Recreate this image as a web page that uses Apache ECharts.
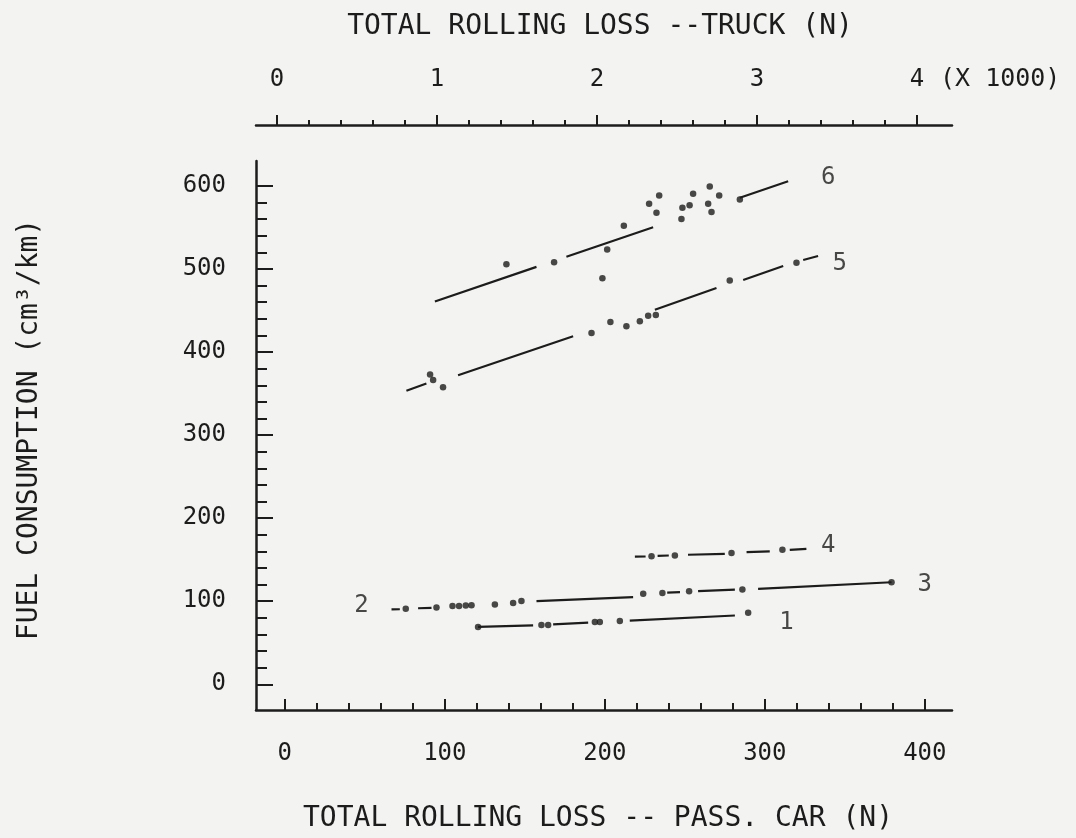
<!DOCTYPE html>
<html>
<head>
<meta charset="utf-8">
<title>Fuel consumption vs rolling loss</title>
<script src="https://cdn.jsdelivr.net/npm/echarts@6/dist/echarts.min.js"></script>
<style>
  html, body { margin: 0; padding: 0; background: #f3f3f1; }
  #chart { width: 1076px; height: 838px; }
</style>
</head>
<body>
<div id="chart"></div>
<script>
// tick labels
var carTicks = [0, 100, 200, 300, 400];
var truckTicks = [0, 1000, 2000, 3000, 4000];
var fuelTicks = [0, 100, 200, 300, 400, 500, 600];

// measured points, [pass. car rolling loss N, fuel cm3/km]
var pts1 = [[120.8, 69], [160.4, 71.4], [164.6, 71.4], [193.8, 75], [196.9, 75], [209.4, 76.2], [289.6, 86.1]];
var pts2 = [[75.6, 90.9], [94.8, 92.3], [104.8, 94.1], [108.9, 94.1], [113.1, 94.9], [116.7, 95.2], [131.3, 96], [142.7, 97.7], [147.9, 100.1]];
var pts3 = [[224, 108.9], [236, 110], [252.7, 112], [286, 114], [379.2, 122.8]];
var pts4 = [[229.2, 154], [243.8, 155.1], [279.2, 157.9], [311, 161.8]];
var pts5 = [[90.8, 373], [92.7, 366.4], [98.9, 357.6], [191.7, 423], [203.5, 436.2], [213.5, 431], [221.9, 437], [227.1, 443.8], [231.9, 444.6], [278.1, 486], [319.8, 507.5]];
var pts6 = [[138.5, 505.6], [168.3, 508], [201.5, 523.5], [198.5, 488.9], [211.9, 552], [227.7, 578.6], [234, 588.5], [232.3, 567.8], [247.9, 560.2], [248.5, 573.8], [253, 576.6], [255.2, 590.6], [265.6, 599.3], [271.5, 588.5], [264.6, 578.6], [266.7, 568.6], [284.4, 583.7]];

// fitted lines as drawn (broken around the points)
var fit1 = [[[120.8, 69], [155.2, 71]], [[167.7, 72.1], [189.6, 74.2]], [[215.6, 76.6], [281.3, 82.8]]];
var fit2 = [[[66.7, 90.1], [71.9, 90.3]], [[83.3, 91.5], [91.7, 92]], [[157.3, 100.1], [217.7, 104.9]]];
var fit3 = [[[239, 110.3], [247, 111]], [[258.3, 112.1], [281.3, 113.9]], [[295.8, 114.8], [379.2, 122.8]]];
var fit4 = [[[218.8, 153.6], [225.5, 153.8]], [[233, 154.5], [240, 155]], [[252, 155.9], [275, 157]], [[288.6, 159.1], [303.1, 159.9]], [[315.6, 161.8], [326, 163]]];
var fit5 = [[[76, 353.3], [88.5, 362]], [[108.3, 372], [180.2, 419]], [[231.3, 451], [269.8, 477]], [[286.5, 486.8], [311.5, 503.6]], [[324, 510.8], [333.3, 515.6]]];
var fit6 = [[[93.8, 460.9], [157.3, 502.5]], [[176, 514.8], [230.2, 550.3]], [[284.4, 585.8], [314.6, 605.6]]];

// curve numbers and where they sit
var curveNames = ['1', '2', '3', '4', '5', '6'];
var labelX = [313.5, 47.9, 400, 339.6, 346.9, 339.6];
var labelY = [74.2, 94.5, 119.3, 167.1, 506, 610.4];

var ink = '#1c1c1c';
var font = 'DejaVu Sans Mono';

function minors(major, step) {
  var out = [];
  for (var v = major[0]; v <= major[major.length - 1]; v += step) {
    if (major.indexOf(v) < 0) out.push(v);
  }
  return out;
}

function segData(segs) {
  var d = [];
  segs.forEach(function (s, k) {
    if (k) d.push(['-', '-']);
    d.push(s[0], s[1]);
  });
  return d;
}

var chart = echarts.init(document.getElementById('chart'));

var series = [];
[fit1, fit2, fit3, fit4, fit5, fit6].forEach(function (f) {
  series.push({
    type: 'line', data: segData(f), showSymbol: false, connectNulls: false,
    lineStyle: { color: ink, width: 2.2 }, silent: true
  });
});
[pts1, pts2, pts3, pts4, pts5, pts6].forEach(function (p) {
  series.push({
    type: 'scatter', data: p, symbolSize: 6.5,
    itemStyle: { color: ink }
  });
});
series.push({
  type: 'scatter', symbolSize: 1,
  itemStyle: { color: 'rgba(0,0,0,0)' },
  data: curveNames.map(function (n, i) { return { name: n, value: [labelX[i], labelY[i]] }; }),
  label: {
    show: true, position: 'inside', formatter: '{b}',
    fontFamily: font, fontSize: 24, color: ink, textBorderWidth: 0
  }
});

var labelStyle = { fontFamily: font, fontSize: 24, color: ink };
var nameStyle = { fontFamily: font, fontSize: 28, color: ink };

var option = {
  backgroundColor: '#f3f3f1',
  animation: false,
  grid: { left: 256, top: 161, width: 696, height: 552 },
  xAxis: [
    {
      type: 'value', position: 'bottom', min: -18, max: 417,
      axisLine: { onZero: false, lineStyle: { color: ink, width: 2.5 } },
      axisTick: { inside: true, length: 11, customValues: carTicks, lineStyle: { color: ink, width: 2 } },
      axisLabel: Object.assign({ customValues: carTicks, margin: 32 }, labelStyle),
      splitLine: { show: false },
      name: 'TOTAL ROLLING LOSS -- PASS. CAR (N)', nameLocation: 'middle', nameGap: 95,
      nameTextStyle: Object.assign({ padding: [0, 12, 0, 0] }, nameStyle)
    },
    {
      type: 'value', position: 'bottom', min: -18, max: 417,
      axisLine: { show: false, onZero: false },
      axisTick: { inside: true, length: 7, customValues: minors(carTicks, 20), lineStyle: { color: ink, width: 2 } },
      axisLabel: { show: false },
      splitLine: { show: false }
    },
    {
      type: 'value', position: 'top', offset: 36, min: -131, max: 4219,
      axisLine: { onZero: false, lineStyle: { color: ink, width: 2.5 } },
      axisTick: { inside: false, length: 10, customValues: truckTicks, lineStyle: { color: ink, width: 2 } },
      axisLabel: Object.assign({
        customValues: truckTicks, margin: 33,
        formatter: function (v) { return String(v / 1000); }
      }, labelStyle),
      splitLine: { show: false },
      name: 'TOTAL ROLLING LOSS --TRUCK (N)', nameLocation: 'middle', nameGap: 84,
      nameTextStyle: Object.assign({ padding: [0, 8, 0, 0] }, nameStyle)
    },
    {
      type: 'value', position: 'top', offset: 36, min: -131, max: 4219,
      axisLine: { show: false, onZero: false },
      axisTick: { inside: false, length: 5, customValues: minors(truckTicks, 200), lineStyle: { color: ink, width: 2 } },
      axisLabel: { show: false },
      splitLine: { show: false }
    }
  ],
  yAxis: [
    {
      type: 'value', position: 'left', min: -31, max: 630,
      axisLine: { onZero: false, lineStyle: { color: ink, width: 2.5 } },
      axisTick: { inside: true, length: 17, customValues: fuelTicks, lineStyle: { color: ink, width: 2 } },
      axisLabel: Object.assign({ customValues: fuelTicks, margin: 30 }, labelStyle),
      splitLine: { show: false },
      name: 'FUEL CONSUMPTION (cm³/km)', nameLocation: 'middle', nameGap: 212,
      nameTextStyle: Object.assign({ padding: [0, 0, 0, 12] }, nameStyle)
    },
    {
      type: 'value', position: 'left', min: -31, max: 630,
      axisLine: { show: false, onZero: false },
      axisTick: { inside: true, length: 11, customValues: minors(fuelTicks, 20), lineStyle: { color: ink, width: 2 } },
      axisLabel: { show: false },
      splitLine: { show: false }
    }
  ],
  graphic: [{
    type: 'text', left: 940, top: 67,
    style: { text: '(X 1000)', font: '25px "DejaVu Sans Mono"', fill: ink }
  }],
  series: series
};

chart.setOption(option);
</script>
</body>
</html>
